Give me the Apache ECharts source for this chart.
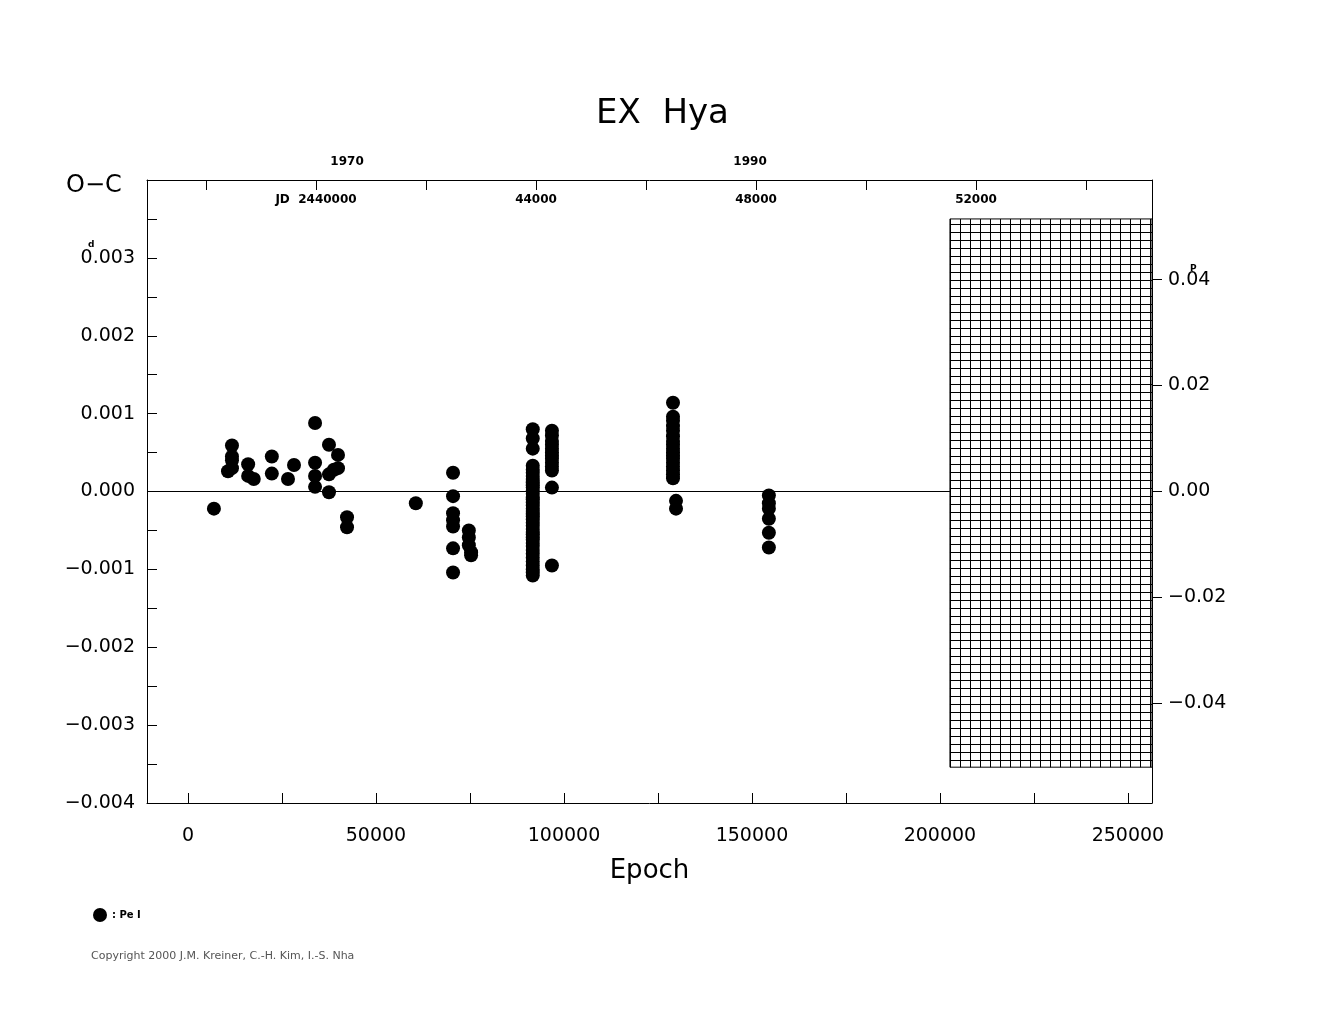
<!DOCTYPE html>
<html lang="en">
<head>
<meta charset="UTF-8">
<title>EX Hya O-C</title>
<script src="https://cdn.jsdelivr.net/npm/echarts@6/dist/echarts.min.js"></script>
<style>body{margin:0;background:#fff}</style>
</head>
<body>
<div id="main" style="width:1325px;height:1020px;"></div>
<script type="text/javascript">
// epoch groups and O-C values (days)
var epochs = [6900, 10640, 11700, 11700, 11700, 11700, 16000, 16000, 17500, 22300, 22300, 26600, 28200,
  33800, 33800, 33800, 33800, 37500, 37500, 37500, 38800, 39900, 39900, 42300, 42300, 60600,
  70500, 70500, 70500, 70500, 70500, 70500, 70500, 74700, 74700, 74700, 75300, 75300];
var ocValues = [-0.00022, 0.00026, 0.00059, 0.00045, 0.0004, 0.0003, 0.00035, 0.0002, 0.00016, 0.00045, 0.00023, 0.00016, 0.00034,
  0.00088, 0.00037, 0.0002, 0.00006, 0.0006, 0.00022, -0.00001, 0.00028, 0.00047, 0.0003, -0.00033, -0.00046, -0.00015,
  0.00024, -0.00006, -0.00028, -0.00037, -0.00045, -0.00073, -0.00104, -0.0005, -0.00059, -0.00069, -0.00078, -0.00082];
// dense column near epoch 91700
var col91700 = [0.0008, 0.00068, 0.00055, 0.00033, 0.00028, 0.00024, 0.0002, 0.00016, 0.00012, 0.00008, 0.00005, 0.00001,
  -0.00003, -0.00007, -0.0001, -0.00014, -0.00018, -0.00022, -0.00025, -0.00029, -0.00032, -0.00036, -0.0004, -0.00044,
  -0.00048, -0.00052, -0.00055, -0.00059, -0.00062, -0.00066, -0.0007, -0.00075, -0.0008, -0.00085, -0.0009, -0.00095,
  -0.001, -0.00104, -0.00108];
var col96800 = [0.00078, 0.00072, 0.00065, 0.0006, 0.00055, 0.0005, 0.00046, 0.00042, 0.00037, 0.00032, 0.00027, 0.00005, -0.00095];
var col129000 = [0.00114, 0.00096, 0.00091, 0.00084, 0.00078, 0.00071, 0.00065, 0.0006, 0.00055, 0.0005, 0.00046, 0.00042,
  0.00037, 0.00032, 0.00027, 0.00022, 0.00017, -0.00012, -0.00022];
var col154500 = [-0.00005, -0.00015, -0.00022, -0.00035, -0.00053, -0.00072];

var epochTicks = [0, 50000, 100000, 150000, 200000, 250000];
var epochMinor = [25000, 75000, 125000, 175000, 225000];
var jdTicks = [2438000, 2440000, 2442000, 2444000, 2446000, 2448000, 2450000, 2452000, 2454000];
var jdLabels = [2440000, 2444000, 2448000, 2452000];
var yearLabels = [1970, 1990];
var ocLabels = [-0.004, -0.003, -0.002, -0.001, 0, 0.001, 0.002, 0.003];
var phaseLabels = [-0.04, -0.02, 0, 0.02, 0.04];

var points = [];
epochs.forEach(function (e, i) { points.push([e, ocValues[i]]); });
col91700.forEach(function (v) { points.push([91700, v]); });
col96800.forEach(function (v) { points.push([96800, v]); });
col129000.forEach(function (v, i) { points.push([i < 17 ? 129000 : 129800, v]); });
col154500.forEach(function (v) { points.push([154500, v]); });

// grid hatch pattern
var pat = document.createElement('canvas');
pat.width = 10; pat.height = 8;
var c = pat.getContext('2d');
c.fillStyle = '#fff'; c.fillRect(0, 0, 10, 8);
c.fillStyle = '#000'; c.fillRect(0, 0, 1, 8); c.fillRect(0, 0, 10, 1);

var font = 'DejaVu Sans';
var minus = function (s) { return s.replace('-', '\u2212'); };

var myChart = echarts.init(document.getElementById('main'));
var option = {
  backgroundColor: '#fff',
  animation: false,
  textStyle: { fontFamily: font, color: '#000' },
  title: { text: 'EX  Hya', left: 'center', top: 92, textStyle: { fontSize: 34, fontWeight: 'normal', fontFamily: font, color: '#000' } },
  legend: {
    left: 88, top: 903, icon: 'circle', itemWidth: 14, itemHeight: 14, itemGap: 4,
    data: [': Pe I'], textStyle: { fontSize: 10, fontWeight: 'bold', fontFamily: font, color: '#000' }
  },
  grid: { left: 147, right: 173, top: 180, bottom: 217 },
  graphic: [
    { type: 'text', left: 66, top: 174, style: { text: 'O\u2212C', font: '24px DejaVu Sans', fill: '#000' } },
    { type: 'text', left: 88, top: 240, style: { text: 'd', font: 'bold 9px DejaVu Sans', fill: '#000' } },
    { type: 'text', left: 1190, top: 264, style: { text: 'P', font: 'bold 9px DejaVu Sans', fill: '#000' } },
    { type: 'text', left: 91, top: 951, style: { text: 'Copyright 2000 J.M. Kreiner, C.-H. Kim, I.-S. Nha', font: '11px DejaVu Sans', fill: '#555' } }
  ],
  xAxis: [{
    type: 'value', min: -10900, max: 256400, position: 'bottom',
    name: 'Epoch', nameLocation: 'middle', nameGap: 55, nameTextStyle: { fontSize: 26, fontFamily: font, color: '#000' },
    splitLine: { show: false }, axisLine: { onZero: false, lineStyle: { color: '#000' } },
    axisTick: { inside: true, length: 10, customValues: epochTicks.concat(epochMinor), lineStyle: { color: '#000' } },
    axisLabel: { customValues: epochTicks, margin: 24, fontSize: 19, color: '#000', fontFamily: font,
      formatter: function (v) { return String(v); } }
  }, {
    type: 'value', min: 2436927, max: 2455200, position: 'top',
    splitLine: { show: false }, axisLine: { onZero: false, lineStyle: { color: '#000' } },
    axisTick: { inside: true, length: 10, customValues: jdTicks, lineStyle: { color: '#000' } },
    axisLabel: {
      inside: true, margin: 14, customValues: jdLabels, fontSize: 12, fontWeight: 'bold', color: '#000', fontFamily: font,
      formatter: function (v) { return v === 2440000 ? 'JD  2440000' : String(v - 2400000); }
    }
  }, {
    type: 'value', min: 1960.07, max: 2009.95, position: 'top',
    splitLine: { show: false }, axisLine: { show: false, onZero: false }, axisTick: { show: false },
    axisLabel: { customValues: yearLabels, margin: 12, fontSize: 12, fontWeight: 'bold', color: '#000', fontFamily: font,
      formatter: function (v) { return String(v); } }
  }],
  yAxis: [{
    type: 'value', min: -0.004, max: 0.004, interval: 0.0005,
    splitLine: { show: false }, axisLine: { onZero: false, lineStyle: { color: '#000' } },
    axisTick: { inside: true, length: 10, lineStyle: { color: '#000' } },
    axisLabel: {
      customValues: ocLabels, margin: 12, fontSize: 19, color: '#000', fontFamily: font,
      formatter: function (v) { return minus(v.toFixed(3)); }
    }
  }, {
    type: 'value', min: -0.0588, max: 0.0588, position: 'right',
    splitLine: { show: false }, axisLine: { onZero: false, lineStyle: { color: '#000' } },
    axisTick: { customValues: phaseLabels, length: 10, lineStyle: { color: '#000' } },
    axisLabel: {
      customValues: phaseLabels, margin: 16, fontSize: 19, color: '#000', fontFamily: font,
      formatter: function (v) { return minus(v.toFixed(2)); }
    }
  }],
  series: [{
    name: 'zero', type: 'line', symbol: 'none', silent: true,
    data: [[-10900, 0], [202660, 0]],
    lineStyle: { color: '#000', width: 1 },
    markArea: {
      silent: true,
      itemStyle: { color: { image: pat, repeat: 'repeat' }, borderColor: '#000', borderWidth: 1 },
      data: [[{ coord: [202660, 0.0035] }, { coord: [256400, -0.00354] }]]
    }
  }, {
    name: ': Pe I', type: 'scatter', symbolSize: 14,
    itemStyle: { color: '#000', opacity: 1 },
    data: points
  }]
};
myChart.setOption(option);
</script>
</body>
</html>
